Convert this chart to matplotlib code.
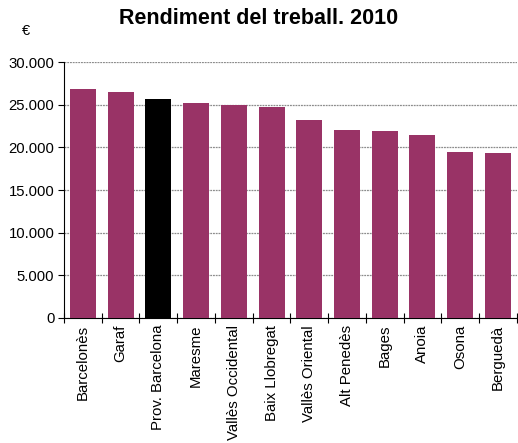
import matplotlib.pyplot as plt
from matplotlib.ticker import FuncFormatter, FixedLocator
import numpy as np

plt.rcParams['font.family'] = ['Liberation Sans', 'DejaVu Sans']

# Rendiment del treball per comarca, 2010 (EUR)
comarques = ['Barcelonès', 'Garaf', 'Prov. Barcelona', 'Maresme', 'Vallès Occidental',
             'Baix Llobregat', 'Vallès Oriental', 'Alt Penedès', 'Bages', 'Anoia',
             'Osona', 'Berguedà']
valors = [26850, 26500, 25700, 25200, 24980, 24730, 23200, 22030, 21920, 21450, 19460, 19340]
colors = ['#993366'] * len(valors)
colors[2] = '#000000'

fig = plt.figure(figsize=(5.18, 4.43), dpi=100)
ax = fig.add_axes([0.1236, 0.2822, 0.874, 0.5778])

x = np.arange(len(valors))
ax.bar(x, valors, width=0.69, color=colors, zorder=3)

ax.set_xlim(-0.5, len(valors) - 0.5)
ax.set_ylim(0, 30000)
ax.set_yticks(range(0, 30001, 5000))
ax.yaxis.set_major_formatter(FuncFormatter(lambda v, p: f'{int(v):,}'.replace(',', '.')))
ax.grid(axis='y', color='#8c8c8c', linestyle=(0, (1.5, 0.7)), linewidth=0.9, zorder=0)

ax.set_xticks(x)
ax.set_xticklabels(comarques, rotation=90, fontsize=10.8)
ax.tick_params(axis='x', which='major', length=0, pad=5)
ax.xaxis.set_minor_locator(FixedLocator(np.arange(-0.5, len(valors), 1)))
ax.tick_params(axis='x', which='minor', length=7, direction='inout', width=0.8)
ax.tick_params(axis='y', labelsize=10.7, length=4, direction='out', width=0.8, pad=3)

for s in ['top', 'right']:
    ax.spines[s].set_visible(False)
ax.spines['left'].set_linewidth(0.8)
ax.spines['bottom'].set_linewidth(0.8)

fig.text(0.5, 0.958, 'Rendiment del treball. 2010', ha='center', va='center',
         fontsize=15.5, fontweight='bold')
fig.text(0.05, 0.93, '€', ha='center', va='center', fontsize=10.5)

fig.savefig('out.png', dpi=100)
